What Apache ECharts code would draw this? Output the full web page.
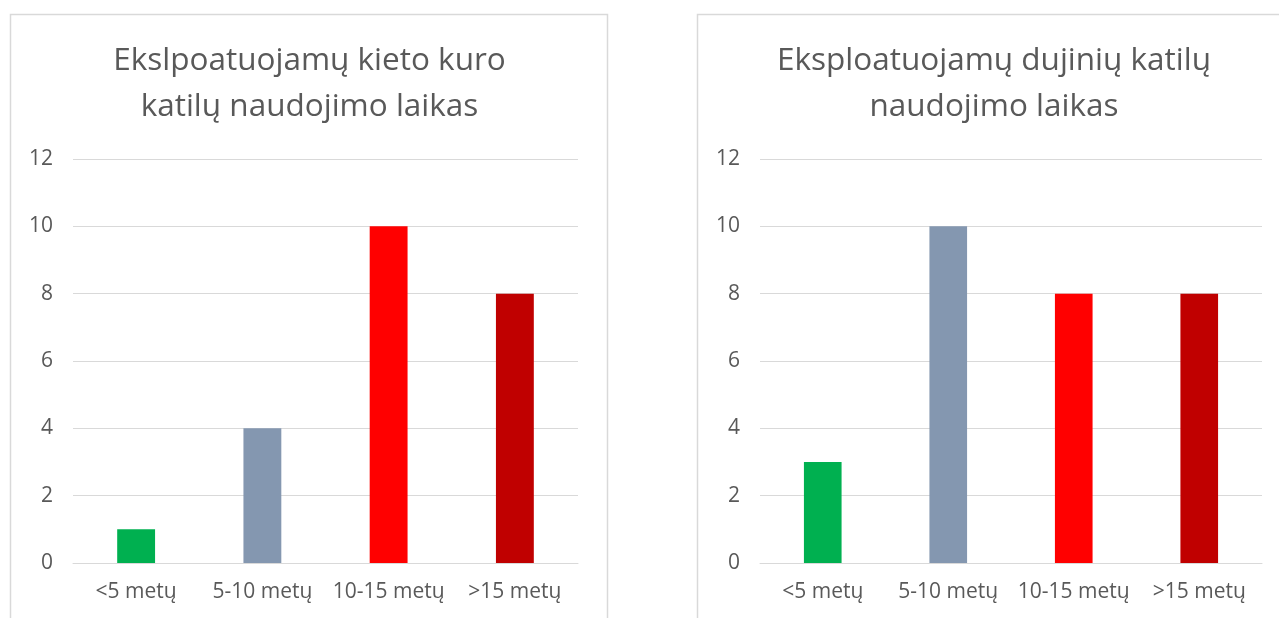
<!DOCTYPE html>
<html><head><meta charset="utf-8">
<script src="https://cdn.jsdelivr.net/npm/echarts@6/dist/echarts.min.js"></script>
<style>html,body{margin:0;padding:0;background:#fff}#c{width:1279px;height:618px}</style>
</head><body><div id="c"></div>
<script>
const categories = ['<5 metų', '5-10 metų', '10-15 metų', '>15 metų'];
const solidFuelValues = [1, 4, 10, 8];
const gasValues = [3, 10, 8, 8];
const barColors = ['#00B050', '#8497B0', '#FF0000', '#C00000'];
const leftTitle = ['Ekslpoatuojamų kieto kuro', 'katilų naudojimo laikas'];
const rightTitle = ['Eksploatuojamų dujinių katilų', 'naudojimo laikas'];

const FONT = '"Open Sans", sans-serif';
const chart = echarts.init(document.getElementById('c'), null, {renderer: 'canvas'});

function xAxis(i) {
  return {
    type: 'category', gridIndex: i, data: categories,
    axisLine: {lineStyle: {color: '#d9d9d9', width: 1}},
    axisTick: {show: false},
    axisLabel: {color: '#595959', fontSize: 21, fontFamily: FONT, margin: 19, interval: 0}
  };
}
function yAxis(i) {
  return {
    type: 'value', gridIndex: i, min: 0, max: 12, interval: 2,
    axisLine: {show: false}, axisTick: {show: false},
    splitLine: {lineStyle: {color: '#d9d9d9', width: 1}},
    axisLabel: {color: '#595959', fontSize: 21, fontFamily: FONT, margin: 20}
  };
}
function series(i, vals) {
  return {
    type: 'bar', xAxisIndex: i, yAxisIndex: i, barWidth: '30%',
    data: vals.map((v, k) => ({value: v, itemStyle: {color: barColors[k]}}))
  };
}
function titleText(x, y, t) {
  return {type: 'text', x: x, y: y, silent: true,
    style: {text: t, fill: '#595959', font: '31.5px ' + FONT, textAlign: 'center', textVerticalAlign: 'middle'}};
}

chart.setOption({
  animation: false,
  grid: [
    {left: 73, right: 701, top: 159, bottom: 55},
    {left: 760, right: 17, top: 159, bottom: 55}
  ],
  xAxis: [xAxis(0), xAxis(1)],
  yAxis: [yAxis(0), yAxis(1)],
  series: [series(0, solidFuelValues), series(1, gasValues)],
  graphic: [
    {type: 'rect', shape: {x: 10.5, y: 14.5, width: 597, height: 640}, style: {fill: 'none', stroke: '#d9d9d9', lineWidth: 1.5}, silent: true},
    {type: 'rect', shape: {x: 697.5, y: 14.5, width: 640, height: 640}, style: {fill: 'none', stroke: '#d9d9d9', lineWidth: 1.5}, silent: true},
    titleText(309.5, 61, leftTitle[0]),
    titleText(309.5, 107, leftTitle[1]),
    titleText(994, 61, rightTitle[0]),
    titleText(994, 107, rightTitle[1])
  ]
});
</script></body></html>
